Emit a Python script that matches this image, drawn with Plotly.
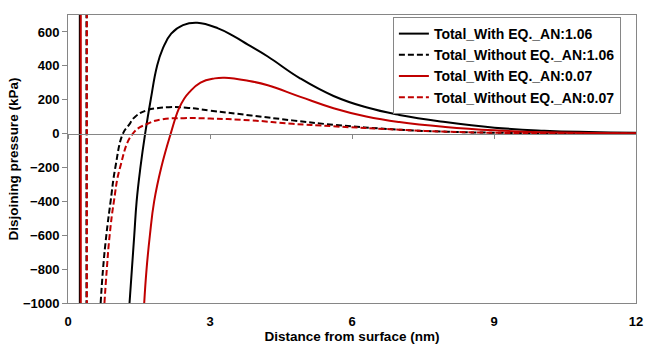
import plotly.graph_objects as go

# ---- data (distance in nm, disjoining pressure in kPa); None = break in the curve ----
with_106_x = [0.25, 0.25, None, 1.30, 1.35, 1.40, 1.45, 1.53, 1.63, 1.75, 1.88, 2.00, 2.18, 2.43, 2.73, 3.17, 3.50, 3.80, 4.22, 4.91, 5.61, 6.30, 7.00, 7.97, 9.01, 10.06, 11.0, 12.0]
with_106_y = [20000, -20000, None, -1000, -800, -600, -400, -200, 0, 204, 398, 500, 590, 640, 654, 621, 575, 525, 455, 325, 222, 155, 110, 68, 35, 17, 9, 5]

without_106_x = [0.39, 0.39, None, 0.69, 0.74, 0.81, 0.90, 1.00, 1.16, 1.28, 1.42, 1.65, 1.88, 2.13, 2.50, 3.00, 3.87, 4.74, 5.61, 7.00, 8.00, 9.00, 10.5, 12.0]
without_106_y = [20000, -20000, None, -1000, -800, -600, -400, -200, 0, 48, 100, 136, 150, 156, 153, 136, 107, 78, 52, 23, 11, 5, 2, 1]

with_007_x = [0.27, 0.27, None, 1.61, 1.66, 1.73, 1.82, 1.97, 2.17, 2.34, 2.45, 2.56, 2.80, 3.10, 3.31, 3.80, 4.22, 4.91, 5.61, 6.30, 7.00, 7.97, 9.01, 10.06, 11.0, 12.0]
with_007_y = [20000, -20000, None, -1000, -800, -600, -400, -200, 0, 146, 204, 243, 301, 326, 330, 312, 285, 217, 150, 101, 68, 39, 19, 8, 4, 2]

without_007_x = [0.40, 0.40, None, 0.77, 0.82, 0.88, 0.97, 1.10, 1.37, 1.68, 2.00, 2.45, 3.00, 3.87, 4.74, 5.61, 7.00, 8.00, 9.00, 10.5, 12.0]
without_007_y = [20000, -20000, None, -1000, -800, -600, -400, -200, 0, 58, 85, 91, 89, 78, 58, 43, 23, 11, 5, 2, 1]

series_names = ["Total_With EQ._AN:1.06", "Total_Without EQ._AN:1.06",
                "Total_With EQ._AN:0.07", "Total_Without EQ._AN:0.07"]

x_ticks = [0, 3, 6, 9, 12]
y_ticks = [-1000, -800, -600, -400, -200, 0, 200, 400, 600]
x_range = [0, 12]
y_range = [-1000, 700]

BLACK = "#000000"
RED = "#C00000"
GRAY = "#868686"
FONT = "Liberation Sans, Arial, sans-serif"
DASH = "6px,3px"

fig = go.Figure()
specs = [
    (with_106_x, with_106_y, series_names[0], BLACK, "solid"),
    (without_106_x, without_106_y, series_names[1], BLACK, DASH),
    (with_007_x, with_007_y, series_names[2], RED, "solid"),
    (without_007_x, without_007_y, series_names[3], RED, DASH),
]
for xs, ys, name, col, dash in specs:
    fig.add_trace(go.Scatter(
        x=xs, y=ys, name=name, mode="lines",
        line=dict(color=col, width=2, dash=dash, shape="spline", smoothing=1.3),
        connectgaps=False, hoverinfo="skip",
    ))

# helper axis drawn along y = 0 with its tick marks
fig.add_trace(go.Scatter(x=[None], y=[None], xaxis="x2", showlegend=False, hoverinfo="skip"))

zero_pos = (0 - y_range[0]) / (y_range[1] - y_range[0])

tickfont = dict(family=FONT, size=13, color="black", weight="bold")
titlefont = dict(family=FONT, size=13.5, color="black", weight="bold")
legendfont = dict(family=FONT, size=14, color="black", weight="bold")
fig.update_layout(
    width=651, height=346,
    margin=dict(l=68, r=8, t=15, b=39),
    paper_bgcolor="white", plot_bgcolor="white",
    font=dict(family=FONT, size=13, color="black"),
    xaxis=dict(
        range=x_range, tickvals=x_ticks, showgrid=False, zeroline=False,
        showline=True, mirror=True, linecolor=GRAY, linewidth=1,
        ticks="", tickfont=tickfont, ticklabelstandoff=6,
        title=dict(text="Distance from surface (nm)", font=titlefont, standoff=0),
    ),
    xaxis2=dict(
        range=x_range, tickvals=x_ticks, overlaying="x", anchor="free",
        position=zero_pos, showgrid=False, zeroline=False, showline=True,
        linecolor=GRAY, linewidth=1, ticks="outside", ticklen=4,
        tickcolor=GRAY, showticklabels=False,
    ),
    yaxis=dict(
        range=y_range, tickvals=y_ticks, showgrid=False, zeroline=False,
        showline=True, mirror=True, linecolor=GRAY, linewidth=1,
        ticks="outside", ticklen=5, tickcolor=GRAY, tickfont=tickfont,
        title=dict(text="Disjoining pressure (kPa)", font=titlefont, standoff=1),
    ),
    legend=dict(
        x=0.572, y=0.993, xanchor="left", yanchor="top",
        bordercolor=GRAY, borderwidth=1, bgcolor="white",
        font=legendfont, tracegroupgap=0,
    ),
    showlegend=True,
)

fig.write_html("out.html")
